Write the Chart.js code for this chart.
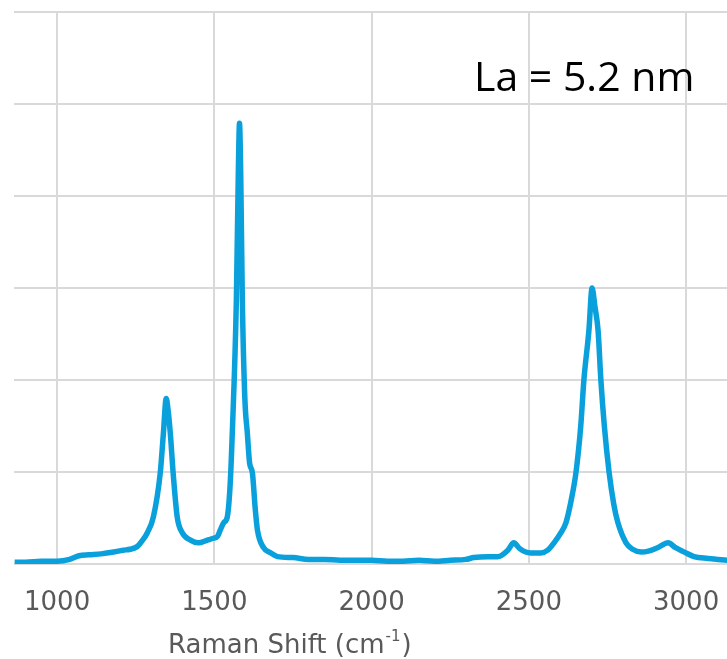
<!DOCTYPE html>
<html>
<head>
<meta charset="utf-8">
<script src="https://cdn.jsdelivr.net/npm/chart.js@4.4.1/dist/chart.umd.min.js"></script>
<style>
  html, body { margin: 0; padding: 0; background: #fff; }
  #wrap { width: 727px; height: 659px; position: relative; }
</style>
</head>
<body>
<div id="wrap"><canvas id="raman-chart"></canvas></div>
<script>
// Raman spectrum (wavenumber in cm-1, intensity in grid units)
var shift = [865, 900, 950, 1000, 1040, 1070, 1100, 1140, 1180, 1210, 1232, 1255, 1270, 1287, 1306, 1328, 1338, 1347,
    1352, 1360, 1369, 1382, 1398, 1424, 1449, 1478, 1497, 1510, 1519, 1530, 1541, 1550, 1557, 1570, 1576, 1580,
    1584, 1589, 1597, 1605, 1612, 1621, 1630, 1637, 1656, 1680, 1701, 1750, 1800, 1850, 1900, 1950, 2000, 2050,
    2100, 2150, 2200, 2250, 2300, 2325, 2370, 2401, 2433, 2452, 2470, 2490, 2506, 2538, 2560, 2580, 2600, 2618,
    2635, 2650, 2665, 2675, 2691, 2701, 2710, 2720, 2729, 2740, 2755, 2770, 2783, 2809, 2830, 2857, 2880, 2911,
    2943, 2965, 2994, 3025, 3070, 3100, 3134];
var intensity = [0.02, 0.02, 0.03, 0.03, 0.05, 0.09, 0.10, 0.11, 0.13, 0.15, 0.16, 0.19, 0.25, 0.34, 0.51, 0.99, 1.42, 1.80,
    1.70, 1.42, 0.99, 0.51, 0.34, 0.26, 0.23, 0.26, 0.28, 0.30, 0.37, 0.45, 0.51, 0.85, 1.42, 2.87, 4.20, 4.79,
    4.20, 2.87, 1.80, 1.42, 1.10, 0.99, 0.60, 0.37, 0.18, 0.12, 0.08, 0.07, 0.05, 0.05, 0.04, 0.04, 0.04, 0.03,
    0.03, 0.04, 0.03, 0.04, 0.05, 0.07, 0.08, 0.08, 0.15, 0.23, 0.17, 0.13, 0.12, 0.12, 0.15, 0.23, 0.33, 0.45,
    0.70, 1.00, 1.50, 2.00, 2.54, 3.00, 2.80, 2.54, 2.00, 1.50, 1.00, 0.65, 0.45, 0.23, 0.16, 0.13, 0.14, 0.18,
    0.23, 0.18, 0.13, 0.08, 0.06, 0.05, 0.04];

var xTicks = [1000, 1500, 2000, 2500, 3000];
var yTicks = [0, 1, 2, 3, 4, 5, 6];

var xTitle = 'Raman Shift (cm';
var xTitleSup = '-1';
var note = 'La = 5.2 nm';

var gridColor = '#d9d9d9';
var textGrey = '#595959';

// the axis title sits off-centre and the note sits inside the plot, so draw them by hand
var textPlugin = {
    id: 'ramanText',
    afterDraw: function(chart) {
        var ctx = chart.ctx;
        ctx.save();
        ctx.textBaseline = 'alphabetic';
        ctx.textAlign = 'left';

        ctx.fillStyle = '#000';
        ctx.font = '41px "Open Sans"';
        ctx.fillText(note, 474, 91);

        ctx.fillStyle = textGrey;
        ctx.font = '26px "DejaVu Sans"';
        var x = 168;
        ctx.fillText(xTitle, x, 653);
        x += ctx.measureText(xTitle).width;
        ctx.font = '15px "DejaVu Sans"';
        ctx.fillText(xTitleSup, x + 1, 641);
        x += ctx.measureText(xTitleSup).width + 2;
        ctx.font = '26px "DejaVu Sans"';
        ctx.fillText(')', x, 653);
        ctx.restore();
    }
};

window.onload = function() {
    var ctx = document.getElementById('raman-chart').getContext('2d');

    var points = shift.map(function(s, i) { return { x: s, y: intensity[i] }; });

    new Chart(ctx, {
        type: 'line',
        data: {
            datasets: [{
                data: points,
                borderColor: '#0aa0dc',
                borderWidth: 5.5,
                pointRadius: 0,
                fill: false,
                cubicInterpolationMode: 'monotone'
            }]
        },
        options: {
            responsive: true,
            maintainAspectRatio: false,
            animation: false,
            layout: { padding: { left: 14, top: 12, right: 0, bottom: 0 } },
            plugins: {
                legend: { display: false },
                tooltip: { enabled: false }
            },
            scales: {
                x: {
                    type: 'linear',
                    min: 863,
                    max: 3130,
                    afterBuildTicks: function(scale) {
                        scale.ticks = xTicks.map(function(v) { return { value: v }; });
                    },
                    afterFit: function(scale) {
                        scale.height = 95;
                        scale.paddingLeft = 0;
                        scale.paddingRight = 0;
                    },
                    grid: { color: gridColor, lineWidth: 2, drawTicks: false },
                    border: { display: false },
                    ticks: {
                        padding: 24,
                        color: textGrey,
                        font: { family: 'DejaVu Sans', size: 26 },
                        maxRotation: 0,
                        autoSkip: false,
                        callback: function(v) { return String(v); }
                    }
                },
                y: {
                    min: 0,
                    max: 6,
                    afterBuildTicks: function(scale) {
                        scale.ticks = yTicks.map(function(v) { return { value: v }; });
                    },
                    afterFit: function(scale) { scale.width = 0; },
                    grid: { color: gridColor, lineWidth: 2, drawTicks: false },
                    border: { display: false },
                    ticks: { display: false }
                }
            }
        },
        plugins: [textPlugin]
    });
};
</script>
</body>
</html>
